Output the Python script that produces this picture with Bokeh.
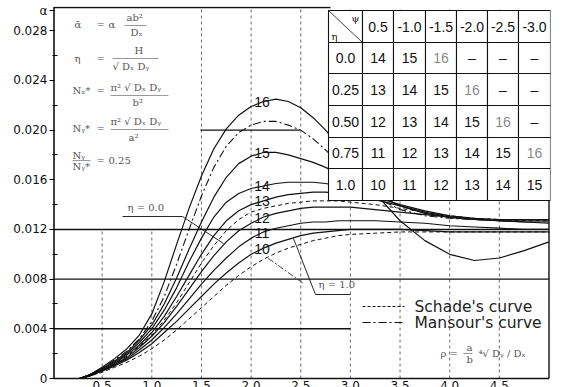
from bokeh.plotting import figure
from bokeh.models import Range1d, FixedTicker
from bokeh.core.properties import value
from bokeh.embed import file_html
from bokeh.resources import INLINE
import numpy as np

# ---------------- data ----------------
x_pts = [0.27, 0.375, 0.5, 0.625, 0.75, 0.875, 1.0, 1.125, 1.25, 1.375, 1.5, 1.625,
         1.75, 1.875, 2.0, 2.125, 2.25, 2.375, 2.5, 2.625, 2.75, 2.875, 3.0,
         3.25, 3.5, 3.75, 4.0, 4.25, 4.5, 4.75, 5.0]

curve_16 = [0, .0003, .0009, .0016, .0024, .0035, .0052, .0078, .0108, .0137, .0163, .0185,
            .0201, .0212, .0219, .0223, .0225, .0223, .0218, .0210, .0200, .0188, .0175,
            .0149, .0127, .0111, .0100, .0095, .0097, .0103, .0110]
curve_16_mansour = [0, .0003, .0008, .0015, .0022, .0032, .0046, .0066, .0092, .0120, .0147, .0170,
                    .0187, .0198, .0204, .0207, .0207, .0204, .0200, .0193, .0184, .0174, .0164,
                    .0146, .0136, .0131, .0129, .0128, .0128, .0128, .0128]
curve_15 = [0, .0003, .0008, .0014, .0021, .0031, .0043, .0060, .0081, .0104, .0126, .0146,
            .0162, .0173, .0179, .0182, .0182, .0180, .0177, .0174, .0170, .0165, .0160,
            .0149, .0139, .0133, .0130, .0128, .0127, .0127, .0127]
curve_14 = [0, .0003, .0008, .0013, .0020, .0029, .0040, .0055, .0073, .0094, .0113, .0130,
            .0142, .0149, .0153, .0155, .0157, .0158, .0158, .0158, .0157, .0155, .0152,
            .0146, .0140, .0135, .0131, .0129, .0128, .0128, .0128]
curve_13 = [0, .0003, .0007, .0012, .0019, .0027, .0037, .0050, .0066, .0083, .0100, .0115,
            .0127, .0135, .0140, .0143, .0146, .0148, .0149, .0150, .0150, .0149, .0148,
            .0144, .0139, .0134, .0130, .0128, .0127, .0126, .0126]
curve_schade_a = [0, .0002, .0007, .0012, .0018, .0026, .0035, .0047, .0061, .0077, .0093, .0107,
                  .0119, .0128, .0134, .0137, .0139, .0141, .0142, .0143, .0143, .0143, .0142,
                  .0140, .0137, .0134, .0131, .0129, .0128, .0127, .0127]
curve_12 = [0, .0002, .0007, .0011, .0017, .0025, .0034, .0045, .0058, .0072, .0086, .0099,
            .0110, .0119, .0125, .0130, .0133, .0135, .0137, .0138, .0138, .0138, .0138,
            .0136, .0134, .0132, .0130, .0128, .0127, .0126, .0125]
curve_11 = [0, .0002, .0006, .0011, .0016, .0023, .0031, .0041, .0052, .0064, .0076, .0087,
            .0097, .0106, .0113, .0118, .0121, .0123, .0125, .0126, .0126, .0127, .0127,
            .0127, .0126, .0125, .0123, .0122, .0121, .0120, .0120]
curve_10 = [0, .0002, .0006, .0010, .0015, .0021, .0028, .0037, .0046, .0056, .0066, .0076,
            .0085, .0093, .0100, .0105, .0109, .0112, .0115, .0117, .0118, .0119, .0120,
            .0120, .0120, .0119, .0118, .0118, .0118, .0118, .0118]
curve_schade_b = [0, .0002, .0005, .0009, .0013, .0018, .0024, .0031, .0039, .0048, .0057, .0066,
                  .0075, .0083, .0090, .0096, .0101, .0105, .0108, .0111, .0113, .0115, .0116,
                  .0117, .0118, .0118, .0118, .0118, .0118, .0118, .0118]

curve_names = ["16", "15", "14", "13", "12", "11", "10"]
solid_curves = [curve_16, curve_15, curve_14, curve_13, curve_12, curve_11, curve_10]
label_x = 2.11

y_ticks = [0, 0.004, 0.008, 0.012, 0.016, 0.020, 0.024, 0.028]
y_tick_labels = ["0", "0.004", "0.008", "0.012", "0.016", "0.020", "0.024", "0.028"]
y_minor = [0.002, 0.006, 0.010, 0.014, 0.018, 0.022, 0.026]
y_axis_symbol = "α"
x_ticks = [0.5, 1.0, 1.5, 2.0, 2.5, 3.0, 3.5, 4.0, 4.5]
x_tick_labels = ["0.5", "1.0", "1.5", "2.0", "2.5", "3.0", "3.5", "4.0", "4.5"]

table_cols = ["0.5", "-1.0", "-1.5", "-2.0", "-2.5", "-3.0"]
table_rows = ["0.0", "0.25", "0.50", "0.75", "1.0"]
table_vals = [["14", "15", "16", "–", "–", "–"],
              ["13", "14", "15", "16", "–", "–"],
              ["12", "13", "14", "15", "16", "–"],
              ["11", "12", "13", "14", "15", "16"],
              ["10", "11", "12", "13", "14", "15"]]

# ---------------- geometry helpers (page pixels -> data) ----------------
PX0, PXS = 52.0, 99.3      # page px of x=0, px per x unit
PY0, PYS = 378.0, 12420.0  # page px of y=0, px per y unit


def X(px):
    return (px - PX0) / PXS


def Y(py):
    return (PY0 - py) / PYS


TOP = 6
FW, FH = 498, 381
p = figure(frame_width=FW, frame_height=FH,
           x_range=Range1d(0, FW / PXS), y_range=Range1d(Y(TOP + FH), Y(TOP)),
           x_axis_type=None, output_backend="svg", toolbar_location=None,
           min_border_left=52, min_border_right=4, min_border_top=TOP, min_border_bottom=0,
           background_fill_color="white", border_fill_color="white")
p.outline_line_color = None
p.xgrid.visible = False
p.ygrid.visible = False

sym_y = Y(10)
ax = p.yaxis[0]
ax.ticker = FixedTicker(ticks=y_ticks + [sym_y], minor_ticks=y_minor)
overrides = {t: l for t, l in zip(y_ticks, y_tick_labels)}
overrides[sym_y] = y_axis_symbol
ax.major_label_overrides = overrides
ax.axis_line_color = None
ax.major_tick_out = 3
ax.major_tick_in = 2
ax.minor_tick_in = 5
ax.minor_tick_out = 0
ax.major_tick_line_width = 1.2
ax.minor_tick_line_width = 1.2
ax.major_label_standoff = 2
ax.major_label_text_font = "DejaVu Sans"
ax.major_label_text_font_size = "12px"
ax.major_label_text_color = "#111111"

INK = "#111111"
FAINT = "#555555"

# grid: dashed verticals
for xv in x_ticks:
    top = 0.012 if xv <= 1.0 else Y(8)
    p.segment(x0=xv, y0=0, x1=xv, y1=top, line_color="#444444", line_width=0.8, line_dash="3 3")

# solid horizontal rules
p.segment(x0=X(53.5), y0=0.004, x1=3.0, y1=0.004, line_color=INK, line_width=1.4)
p.segment(x0=X(53.5), y0=0.008, x1=5.0, y1=0.008, line_color=INK, line_width=1.4)
p.segment(x0=X(53.5), y0=0.012, x1=5.0, y1=0.012, line_color=INK, line_width=1.4)
p.segment(x0=1.49, y0=0.020, x1=2.49, y1=0.020, line_color=INK, line_width=1.2)

# frame lines
p.segment(x0=X(53.5), y0=0, x1=5.0, y1=0, line_color=INK, line_width=1.6)
p.segment(x0=X(53.5), y0=0, x1=X(53.5), y1=Y(6.5), line_color=INK, line_width=1.6)
p.segment(x0=X(53.5), y0=Y(7), x1=X(330), y1=Y(7), line_color=INK, line_width=1.4)
p.segment(x0=5.0, y0=0, x1=5.0, y1=Y(10), line_color=INK, line_width=1.4)

# curves
for ys in solid_curves:
    p.line(x_pts, ys, line_color=INK, line_width=1.2)
p.line(x_pts, curve_16_mansour, line_color=INK, line_width=1.1, line_dash="8 3 2 3")
p.line(x_pts, curve_schade_a, line_color=INK, line_width=1.0, line_dash="4 3")
p.line(x_pts, curve_schade_b, line_color=INK, line_width=1.0, line_dash="4 3")

# curve labels
lab_y = [float(np.interp(label_x, x_pts, ys)) for ys in solid_curves]
p.text(x=[label_x] * len(curve_names), y=lab_y, text=curve_names,
       text_font=value("Liberation Sans"), text_font_size="14px",
       text_align="center", text_baseline="middle", text_color=INK)

# eta leader lines and labels
p.line([X(122), X(182), X(223)], [Y(216), Y(216), Y(243)], line_color=INK, line_width=0.9)
p.text(x=[X(127)], y=[Y(207)], text=["η = 0.0"], text_font=value("DejaVu Serif"),
       text_font_size="10px", text_color=FAINT, text_baseline="middle")
p.line([X(293), X(315), X(350)], [Y(238), Y(294), Y(294)], line_color=INK, line_width=0.9)
p.line([X(268), X(303)], [Y(258), Y(283)], line_color=INK, line_width=0.8, line_dash="6 2 2 2")
p.text(x=[X(318)], y=[Y(284)], text=["η = 1.0"], text_font=value("DejaVu Serif"),
       text_font_size="10px", text_color=FAINT, text_baseline="middle")

# legend
p.segment(x0=X(362), y0=Y(306), x1=X(404), y1=Y(306), line_color=INK, line_width=1.0, line_dash="3 2")
p.segment(x0=X(362), y0=Y(322), x1=X(404), y1=Y(322), line_color=INK, line_width=1.0, line_dash="8 3 2 3")
p.text(x=[X(414), X(414)], y=[Y(306), Y(322)], text=["Schade's curve", "Mansour's curve"],
       text_font=value("DejaVu Sans"), text_font_size="15.5px", text_color="#222222",
       text_baseline="middle")

# rho formula (bottom right)
p.text(x=[X(440), X(466), X(466), X(478)], y=[Y(353), Y(347), Y(359), Y(353)],
       text=["ρ =", "a", "b", "⁴√ Dᵧ / Dₓ"], text_font=value("DejaVu Serif"),
       text_font_size="10px", text_color=FAINT, text_baseline="middle")
p.segment(x0=X(463), y0=Y(353), x1=X(472), y1=Y(353), line_color=FAINT, line_width=0.6)

# formula block (top left)
ft = dict(text_font=value("DejaVu Serif"), text_font_size="10px", text_color=FAINT,
          text_baseline="middle")
p.text(x=[X(74), X(74), X(72), X(72), X(72), X(72)],
       y=[Y(24), Y(58), Y(90), Y(128), Y(155), Y(166)],
       text=["ᾱ", "η", "Nₓ*", "Nᵧ*", "Nᵧ", "Nᵧ*"], **ft)
p.text(x=[X(96), X(96), X(96), X(96), X(96)], y=[Y(24), Y(58), Y(90), Y(128), Y(160)],
       text=["=", "=", "=", "=", "="], **ft)
p.segment(x0=X(72), y0=Y(160), x1=X(90), y1=Y(160), line_color=FAINT, line_width=0.6)
p.text(x=[X(108), X(126), X(130), X(112), X(110), X(132), X(110), X(128), X(108)],
       y=[Y(24), Y(17), Y(32), Y(66), Y(87), Y(102), Y(121), Y(137), Y(160)],
       text=["α", "ab²", "Dₓ", "√ Dₓ Dᵧ", "π² √ Dₓ Dᵧ", "b²", "π² √ Dₓ Dᵧ", "a²", "0.25"], **ft)
p.text(x=[X(134)], y=[Y(50)], text=["H"], **ft)
for (a, b, yy) in [(124, 146, 25), (112, 158, 58), (110, 168, 95), (110, 168, 129)]:
    p.segment(x0=X(a), y0=Y(yy), x1=X(b), y1=Y(yy), line_color=FAINT, line_width=0.6)

# x tick labels (their lower half runs off the page bottom, as in the original)
p.text(x=x_ticks, y=[Y(380.5)] * len(x_ticks), text=x_tick_labels,
       text_font=value("DejaVu Sans"), text_font_size="12px", text_color=INK,
       text_align="center", text_baseline="top")

# table
col_px = [328, 362, 393, 425, 456, 487, 518, 550]
row_px = [10, 42, 73, 105, 137, 168, 200]
cx = [X(v) for v in col_px]
ry = [Y(v) for v in row_px]
L, R, T, B = [], [], [], []
for i in range(len(row_px) - 1):
    for j in range(len(col_px) - 1):
        L.append(cx[j]); R.append(cx[j + 1]); T.append(ry[i]); B.append(ry[i + 1])
p.quad(left=L, right=R, top=T, bottom=B, fill_color="white", line_color=INK, line_width=1.1)
p.segment(x0=cx[0], y0=ry[0], x1=cx[1], y1=ry[1], line_color=INK, line_width=0.8)

tx, ty, tt, tc = [], [], [], []
for j, c in enumerate(table_cols):
    tx.append((cx[j + 1] + cx[j + 2]) / 2); ty.append((ry[0] + ry[1]) / 2); tt.append(c); tc.append(INK)
for i, r in enumerate(table_rows):
    tx.append((cx[0] + cx[1]) / 2); ty.append((ry[i + 1] + ry[i + 2]) / 2); tt.append(r); tc.append(INK)
    for j, v in enumerate(table_vals[i]):
        tx.append((cx[j + 1] + cx[j + 2]) / 2); ty.append((ry[i + 1] + ry[i + 2]) / 2)
        tt.append(v); tc.append("#8a8a8a" if v == "16" else INK)
p.text(x=tx, y=ty, text=tt, text_color=tc, text_font=value("Liberation Sans"),
       text_font_size="14px", text_align="center", text_baseline="middle")
p.text(x=[X(331), X(351)], y=[Y(36), Y(18)], text=["η", "ψ"], text_font=value("DejaVu Serif"),
       text_font_size="10px", text_color=INK, text_baseline="middle")

open("out.html", "w").write(file_html(p, INLINE))
